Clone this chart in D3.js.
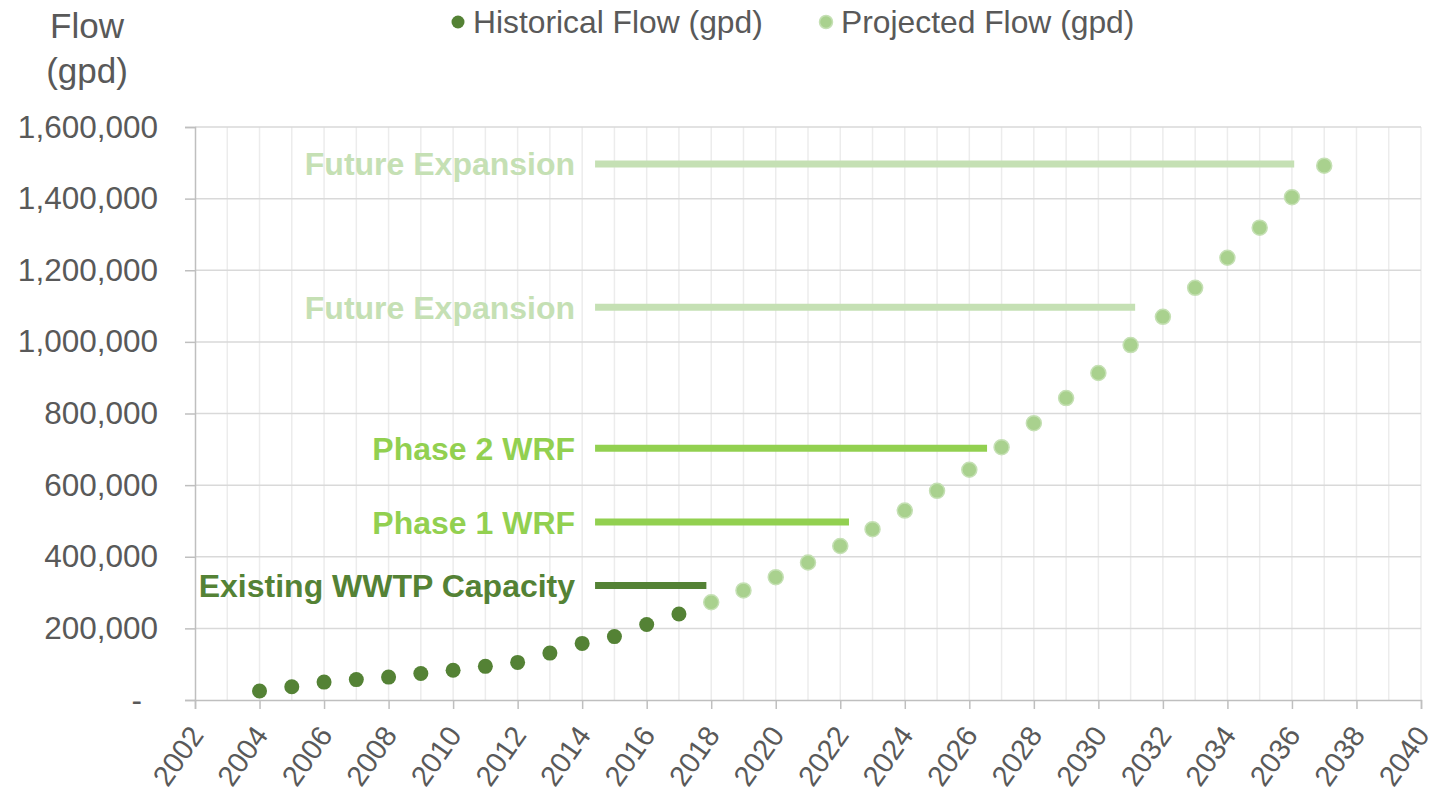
<!DOCTYPE html>
<html>
<head>
<meta charset="utf-8">
<script src="https://cdn.jsdelivr.net/npm/d3@7"></script>
<style>
  body { margin: 0; background: #fff; }
  text { font-family: "Liberation Sans", Arial, sans-serif; }
</style>
</head>
<body>
<script>
const histYears = [2004, 2005, 2006, 2007, 2008, 2009, 2010, 2011, 2012, 2013, 2014, 2015, 2016, 2017]
const histFlow = [25000, 37000, 50000, 57000, 64000, 74000, 83000, 94000, 105000, 131000, 158000, 177000, 211000, 240000]
const projYears = [2018, 2019, 2020, 2021, 2022, 2023, 2024, 2025, 2026, 2027, 2028, 2029, 2030, 2031, 2032, 2033, 2034, 2035, 2036, 2037]
const projFlow = [273000, 306000, 343000, 384000, 430000, 477000, 529000, 584000, 643000, 706000, 773000, 843000, 913000, 991000, 1070000, 1151000, 1235000, 1319000, 1404000, 1492000]

const capLabels = ['Existing WWTP Capacity', 'Phase 1 WRF', 'Phase 2 WRF', 'Future Expansion', 'Future Expansion']
const capFlow = [320000, 497000, 703000, 1097000, 1497000]
const capStart = [2014.4, 2014.4, 2014.4, 2014.4, 2014.4]
const capEnd = [2017.85, 2022.27, 2026.55, 2031.14, 2036.07]
const capColors = ['#548235', '#92d050', '#92d050', '#c5e0b4', '#c5e0b4']

const yTicks = [0, 200000, 400000, 600000, 800000, 1000000, 1200000, 1400000, 1600000]
const xTicks = d3.range(2002, 2041, 2)

const WIDTH = 1448
const HEIGHT = 798
const plotLeft = 195, plotRight = 1421, plotTop = 127, plotBottom = 700

const x = d3.scaleLinear().domain([2002, 2040]).range([plotLeft, plotRight])
const y = d3.scaleLinear().domain([0, 1600000]).range([plotBottom, plotTop])

const svg = d3.select(document.body).append('svg')
  .attr('width', WIDTH)
  .attr('height', HEIGHT)

// minor vertical gridlines, one per year
svg.append('g').selectAll('line')
  .data(d3.range(2003, 2041))
  .enter()
  .append('line')
  .attr('x1', d => x(d)).attr('x2', d => x(d))
  .attr('y1', plotTop).attr('y2', plotBottom)
  .attr('stroke', '#ececec')
  .attr('stroke-width', 1.5)

// horizontal gridlines
svg.append('g').selectAll('line')
  .data(yTicks.slice(1))
  .enter()
  .append('line')
  .attr('x1', plotLeft).attr('x2', plotRight)
  .attr('y1', d => y(d)).attr('y2', d => y(d))
  .attr('stroke', '#d9d9d9')
  .attr('stroke-width', 1.5)

// y axis
const yAxis = svg.append('g')
  .attr('transform', `translate(${plotLeft},0)`)
  .call(d3.axisLeft(y).tickValues(yTicks).tickSize(10).tickPadding(27)
    .tickFormat(d => d === 0 ? '-' : d3.format(',')(d)))
yAxis.select('.domain').attr('stroke', '#bfbfbf').attr('stroke-width', 1.5)
yAxis.selectAll('.tick line').attr('stroke', '#bfbfbf').attr('stroke-width', 1.5)
yAxis.selectAll('.tick text')
  .attr('fill', '#595959')
  .style('font-size', '31.5px')
  .style('font-family', '"Liberation Sans", Arial, sans-serif')
yAxis.selectAll('.tick text').filter(d => d === 0).attr('dx', -16)

// x axis
const xAxis = svg.append('g')
  .attr('transform', `translate(0,${plotBottom})`)
  .call(d3.axisBottom(x).tickValues(xTicks).tickSize(9).tickFormat(d3.format('d')))
xAxis.select('.domain').attr('stroke', '#bfbfbf').attr('stroke-width', 1.5)
xAxis.selectAll('.tick line').attr('stroke', '#bfbfbf').attr('stroke-width', 1.5)
xAxis.selectAll('.tick text')
  .attr('fill', '#595959')
  .style('font-size', '29px')
  .style('font-family', '"Liberation Sans", Arial, sans-serif')
  .attr('text-anchor', 'end')
  .attr('dy', null)
  .attr('transform', 'translate(3,31) rotate(-55)')
  .attr('y', 0)
  .attr('x', 0)
  .attr('dominant-baseline', 'middle')

// capacity lines and labels
const caps = capLabels.map((label, i) => ({ label, flow: capFlow[i], start: capStart[i], end: capEnd[i], color: capColors[i] }))
svg.append('g').selectAll('line')
  .data(caps)
  .enter()
  .append('line')
  .attr('x1', d => x(d.start)).attr('x2', d => x(d.end))
  .attr('y1', d => y(d.flow)).attr('y2', d => y(d.flow))
  .attr('stroke', d => d.color)
  .attr('stroke-width', 7)

svg.append('g').selectAll('text')
  .data(caps)
  .enter()
  .append('text')
  .attr('x', d => x(d.start) - 20)
  .attr('y', d => y(d.flow))
  .attr('dy', '0.36em')
  .attr('text-anchor', 'end')
  .attr('fill', d => d.color)
  .style('font-size', '32px')
  .style('font-weight', 'bold')
  .text(d => d.label)

// data points
svg.append('g').selectAll('circle')
  .data(projYears.map((yr, i) => [yr, projFlow[i]]))
  .enter()
  .append('circle')
  .attr('cx', d => x(d[0]))
  .attr('cy', d => y(d[1]))
  .attr('r', 7.5)
  .attr('fill', '#a9d18e')
  .attr('stroke', '#c5e0b4')
  .attr('stroke-width', 1.5)

svg.append('g').selectAll('circle')
  .data(histYears.map((yr, i) => [yr, histFlow[i]]))
  .enter()
  .append('circle')
  .attr('cx', d => x(d[0]))
  .attr('cy', d => y(d[1]))
  .attr('r', 7.5)
  .attr('fill', '#548235')

// y axis title
const title = svg.append('text')
  .attr('text-anchor', 'middle')
  .attr('fill', '#595959')
  .style('font-size', '35px')
title.append('tspan').attr('x', 87).attr('y', 38).text('Flow')
title.append('tspan').attr('x', 87).attr('y', 83).text('(gpd)')

// legend
const legend = [
  { label: 'Historical Flow (gpd)', fill: '#548235', stroke: 'none', cx: 458 },
  { label: 'Projected Flow (gpd)', fill: '#a9d18e', stroke: '#c5e0b4', cx: 826 }
]
const lg = svg.append('g').selectAll('g')
  .data(legend)
  .enter()
  .append('g')
lg.append('circle')
  .attr('cx', d => d.cx)
  .attr('cy', 22)
  .attr('r', 6.5)
  .attr('fill', d => d.fill)
  .attr('stroke', d => d.stroke)
  .attr('stroke-width', 1.5)
lg.append('text')
  .attr('x', d => d.cx + 15)
  .attr('y', 33)
  .attr('fill', '#595959')
  .style('font-size', '31.8px')
  .text(d => d.label)
</script>
</body>
</html>
